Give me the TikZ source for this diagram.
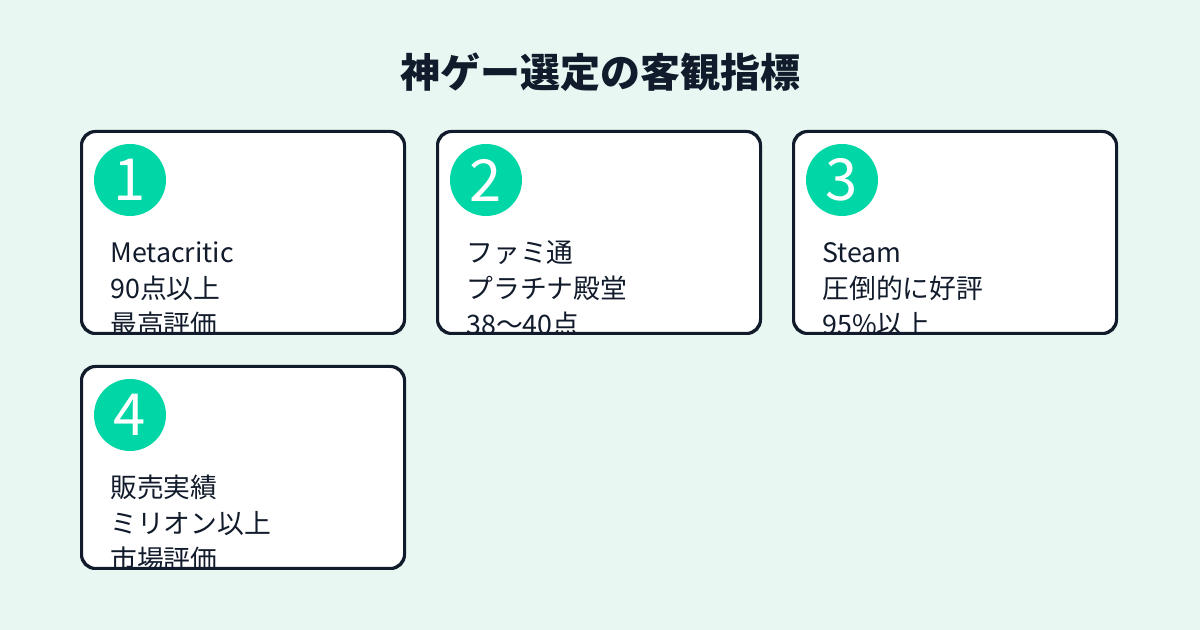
\documentclass[tikz,border=0pt]{standalone}
\usepackage{fontspec}
\setmainfont{Noto Sans CJK JP}
\usepackage{xcolor}
\usepackage{tikz}
\usetikzlibrary{positioning}

\definecolor{bgmint}{HTML}{E8F7F1}
\definecolor{inkdark}{HTML}{111B2B}
\definecolor{badgegreen}{HTML}{00D6A6}

\begin{document}
\begin{tikzpicture}[x=0.5pt, y=-0.5pt,
    card/.style={draw=inkdark, line width=1pt, fill=white, rounded corners=7pt,
                 minimum width=161pt, minimum height=100.5pt, inner sep=0pt},
    badge/.style={circle, fill=badgegreen, minimum size=36pt, inner sep=0pt,
                  text=white, font=\fontsize{29}{29}\selectfont},
    body/.style={anchor=base west, align=left, inner sep=0pt, text=inkdark,
                 font=\fontsize{13.4}{18}\selectfont}]
    % Background
    \fill[bgmint] (0,0) rectangle (1200,630);
    \useasboundingbox (0,0) rectangle (1200,630);

    % Title
    \node[text=inkdark, font=\fontsize{20}{24}\selectfont\bfseries] (title) at (600,72) {神ゲー選定の客観指標};

    % Card 1
    \node[card] (card1) at (243,232.5) {};
    \begin{scope}
        \clip[rounded corners=7pt] (card1.south west) rectangle (card1.north east);
        \node[body] (text1) at (110,335) {Metacritic\\90点以上\\最高評価};
    \end{scope}
    \draw[inkdark, line width=1pt, rounded corners=7pt] (card1.south west) rectangle (card1.north east);
    \node[badge] (num1) at (130,180) {1};

    % Card 2
    \node[card] (card2) at (599,232.5) {};
    \begin{scope}
        \clip[rounded corners=7pt] (card2.south west) rectangle (card2.north east);
        \node[body] (text2) at (466,335) {ファミ通\\プラチナ殿堂\\38〜40点};
    \end{scope}
    \draw[inkdark, line width=1pt, rounded corners=7pt] (card2.south west) rectangle (card2.north east);
    \node[badge] (num2) at (486,180) {2};

    % Card 3
    \node[card] (card3) at (955,232.5) {};
    \begin{scope}
        \clip[rounded corners=7pt] (card3.south west) rectangle (card3.north east);
        \node[body] (text3) at (822,335) {Steam\\圧倒的に好評\\95\%以上};
    \end{scope}
    \draw[inkdark, line width=1pt, rounded corners=7pt] (card3.south west) rectangle (card3.north east);
    \node[badge] (num3) at (842,180) {3};

    % Card 4
    \node[card] (card4) at (243,467.5) {};
    \begin{scope}
        \clip[rounded corners=7pt] (card4.south west) rectangle (card4.north east);
        \node[body] (text4) at (110,570) {販売実績\\ミリオン以上\\市場評価};
    \end{scope}
    \draw[inkdark, line width=1pt, rounded corners=7pt] (card4.south west) rectangle (card4.north east);
    \node[badge] (num4) at (130,415) {4};
\end{tikzpicture}
\end{document}
